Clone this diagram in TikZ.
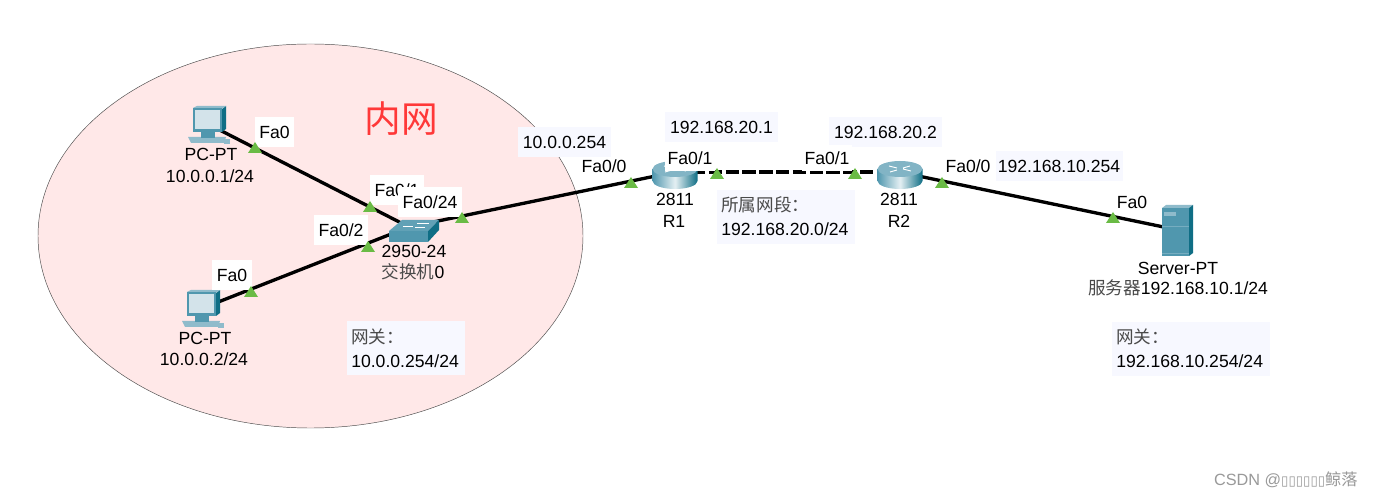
\documentclass[tikz,border=0pt]{standalone}
\usepackage{fontspec}
\usetikzlibrary{shapes.geometric}
\setmainfont{Liberation Sans}
\newfontfamily\cjk{Noto Sans CJK SC}
\newfontfamily\djv{DejaVu Sans}
\definecolor{teal1}{HTML}{5097AE}
\definecolor{teal2}{HTML}{0F6E85}
\definecolor{teal3}{HTML}{8FBBCB}
\definecolor{screenc}{HTML}{D3E3EA}
\definecolor{portg}{HTML}{6ABB45}
\definecolor{boxbg}{HTML}{F7F8FF}
\definecolor{zone}{HTML}{FFE8E8}
\definecolor{cjkc}{HTML}{4A4A4A}
\newcommand{\zh}[1]{{\cjk\color{cjkc}#1}}
\tikzset{
 x=0.75pt,y=-0.75pt,
 devnode/.style={inner sep=0pt,minimum size=0pt},
 link/.style={line width=2.5pt,black},
 dashlink/.style={link,dash pattern=on 10pt off 2.6pt},
 lbl/.style={inner sep=0pt,font=\fontsize{13.2}{18}\selectfont,text height=9.5pt,text depth=0pt,black},
 leftlbl/.style={lbl,anchor=west},
 whitebox/.style={lbl,fill=white,minimum width=#1*0.75pt,minimum height=22pt},
 bluebox/.style={lbl,fill=boxbg,minimum width=#1*0.75pt,minimum height=22pt},
 notebox/.style={inner sep=0pt,fill=boxbg,anchor=north west,minimum height=40.5pt},
 pc/.pic={
  \fill[teal3] (-5,29) -- (-2,35) -- (31,35) -- (33,29) -- cycle;
  \fill[teal1] (8,24) rectangle (22,30);
  \fill[teal3] (31,31) rectangle (37,36);
  \fill[teal2] (29,1) -- (33,-2) -- (33,21) -- (29,24) -- cycle;
  \fill[teal3] (0,0) -- (4,-2) -- (33,-2) -- (29,1) -- cycle;
  \fill[teal1] (0,0) rectangle (29,24);
  \fill[screenc] (2,2) rectangle (27,21);
 },
 routericon/.pic={
  \path[left color=teal1,right color=teal2,middle color=white!85!teal1]
    (-22.5,-6) -- (-22.5,6) arc[start angle=180,end angle=0,x radius=22.5,y radius=8] -- (22.5,-6) -- cycle;
  \fill[teal3!80!teal1] (0,-6) ellipse[x radius=22.5,y radius=8];
  \draw[white,line width=.7pt] (-11,-9) -- (-3,-7) (11,-4) -- (3,-6) (-10,-3) -- (-3,-5) (10,-9) -- (3,-7);
 },
 switchicon/.pic={
  \fill[teal1!90!white] (-20,2) -- (-7,-9) -- (30,-9) -- (19,2) -- cycle;
  \draw[white,line width=.5pt] (-6,-3) -- (4,-3) (8,-6) -- (20,-6) (6,-2) -- (16,-2);
  \fill[teal1] (-20,2) rectangle (19,13);
  \fill[teal2] (19,2) -- (30,-9) -- (30,1) -- (19,13) -- cycle;
 },
 servericon/.pic={
  \fill[teal3] (-16,-22) -- (-12,-25) -- (15,-25) -- (11,-22) -- cycle;
  \fill[teal2] (11,-22) -- (15,-25) -- (15,23) -- (11,26) -- cycle;
  \fill[teal1] (-16,-22) rectangle (11,26);
  \fill[teal3] (-14,-18) rectangle (-2,-14);
  \draw[teal3!60!teal1,line width=.3pt] (-16,-4) -- (11,-4) (-16,23) -- (11,23);
 },
 portmark/.pic={\fill[portg] (-7,0) -- (0,-11) -- (7,0) -- cycle;},
}
\begin{document}
\begin{tikzpicture}
\useasboundingbox (0,0) rectangle (1373,498);
\fill[white] (0,0) rectangle (1373,498);
% zone
\node[draw=black!70,line width=.35pt,fill=zone,ellipse,inner sep=0pt,minimum width=545*0.75pt,minimum height=384*0.75pt] (zone) at (310.5,236) {};
% device anchors
\node[devnode] (pc1) at (208,124) {};
\node[devnode] (pc2) at (203,308) {};
\node[devnode] (sw) at (409,227) {};
\node[devnode] (r1) at (675,172) {};
\node[devnode] (r2) at (899,172) {};
\node[devnode] (srv) at (1178,230) {};
% links
\draw[link] (pc1) -- (sw);
\draw[link] (pc2) -- (sw);
\draw[link] (sw) -- (r1);
\draw[dashlink] (r1) -- (r2);
\draw[link] (r2) -- (srv);
% icons
\pic at (193,108) {pc};
\pic at (187,292) {pc};
\pic at (409,229) {switchicon};
\pic at (675,175) {routericon};
\pic at (900,175) {routericon};
\pic at (1178,230) {servericon};
% text
\node[font=\fontsize{27.5}{30}\selectfont\cjk,text=red!78!white,inner sep=0pt] (zonename) at (401,119) {内网};
\node[whitebox=39] (l1) at (274.5,132) {Fa0};
\node[whitebox=54] (l2) at (397,190) {Fa0/1};
\node[whitebox=64,minimum height=22.5pt] (l3) at (430,202) {Fa0/24};
\node[whitebox=54] (l4) at (341,230) {Fa0/2};
\node[whitebox=40] (l5) at (232,275) {Fa0};
\node[lbl] (n1) at (211,154) {PC-PT};
\node[lbl] (n2) at (210,176) {10.0.0.1/24};
\node[lbl] (n3) at (205,338) {PC-PT};
\node[lbl] (n4) at (204,359) {10.0.0.2/24};
\node[lbl] (n5) at (414,251) {2950-24};
\node[lbl] (n6) at (413,272) {\zh{交换机}0};
\node[notebox,minimum width=118*0.75pt] (gw1) at (347,321) {};
\node[leftlbl] (gw1a) at (351,337) {\zh{网关：}};
\node[leftlbl] (gw1b) at (351,361) {10.0.0.254/24};
\node[bluebox=93] (ip1) at (564.5,142) {10.0.0.254};
\node[lbl] (l6) at (604,166) {Fa0/0};
\node[bluebox=113] (ip2) at (721.5,127) {192.168.20.1};
\node[whitebox=50,minimum height=19.5pt] (l7) at (690,158) {Fa0/1};
\node[bluebox=113] (ip3) at (885.5,132) {192.168.20.2};
\node[whitebox=50,minimum height=19.5pt] (l8) at (827,158) {Fa0/1};
\node[notebox,minimum width=138*0.75pt] (seg) at (717,190) {};
\node[leftlbl] (sega) at (721,205) {\zh{所属网段：}};
\node[leftlbl] (segb) at (721,229) {192.168.20.0/24};
\node[lbl] (n7) at (675,199) {2811};
\node[lbl] (n8) at (674,221) {R1};
\node[lbl] (n9) at (899,199) {2811};
\node[lbl] (n10) at (899,221) {R2};
\node[lbl] (l9) at (968,166) {Fa0/0};
\node[bluebox=127] (ip4) at (1059,166) {192.168.10.254};
\node[lbl] (l10) at (1132,202) {Fa0};
\node[lbl] (n11) at (1178,268) {Server-PT};
\node[lbl] (n12) at (1178,288) {\zh{服务器}192.168.10.1/24};
\node[notebox,minimum width=158*0.75pt] (gw2) at (1112,322) {};
\node[leftlbl] (gw2a) at (1116,337) {\zh{网关：}};
\node[leftlbl] (gw2b) at (1116,361) {192.168.10.254/24};
\node[inner sep=0pt,anchor=east,font=\fontsize{12.2}{15}\selectfont,text=black!40] (mark) at (1358,480) {CSDN @{\djv\fontsize{10}{12}\selectfont ▯▯▯▯▯▯}{\cjk 鲸落}};
% port markers
\foreach \px/\py in {255/153,370/212,368/252,251/297,462/223,631/188,717/179,855/179,942/188,1113/223}
  \pic at (\px,\py) {portmark};
\end{tikzpicture}
\end{document}
